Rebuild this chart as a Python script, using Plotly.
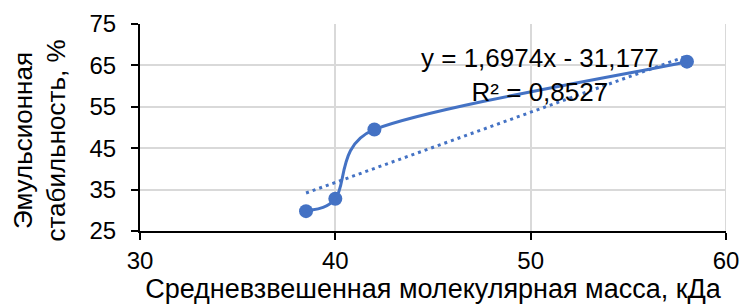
import math
import plotly.graph_objects as go

mass_kda = [38.5, 40.0, 42.0, 58.0]
stability_pct = [29.8, 32.8, 49.5, 65.9]
trend_slope = 1.6974
trend_intercept = -31.177
trend_label = "y = 1,6974x - 31,177<br>R² = 0,8527"
x_title = "Средневзвешенная молекулярная масса, кДа"
y_title = "Эмульсионная<br>стабильность, %"

blue = "#4472C4"
font = "Liberation Sans, Arial, sans-serif"

W, H = 743, 306
M = dict(l=140, r=17, t=24, b=75)
x_range = [30, 60]
y_range = [25, 75]

trend_x = [min(mass_kda), max(mass_kda)]
trend_y = [trend_slope * v + trend_intercept for v in trend_x]


def smooth_path(xs, ys):
    """Excel-style smoothed line: Bezier segments with Catmull-Rom tangents
    (1/6), arm length capped at half the segment length (in screen space)."""
    sx = (W - M["l"] - M["r"]) / (x_range[1] - x_range[0])
    sy = (H - M["t"] - M["b"]) / (y_range[1] - y_range[0])
    pts = [(x * sx, y * sy) for x, y in zip(xs, ys)]
    n = len(pts)

    def arm(a, b, seg_len):
        dx, dy = b[0] - a[0], b[1] - a[1]
        L = math.hypot(dx, dy)
        f = 1 / 6
        if L > 0 and L / 6 > seg_len / 2:
            f = (seg_len / 2) / L
        return dx * f, dy * f

    def to_data(p):
        return f"{p[0] / sx},{p[1] / sy}"

    d = "M " + to_data(pts[0])
    for i in range(n - 1):
        p0 = pts[max(i - 1, 0)]
        p1 = pts[i]
        p2 = pts[i + 1]
        p3 = pts[min(i + 2, n - 1)]
        seg = math.hypot(p2[0] - p1[0], p2[1] - p1[1])
        a1 = arm(p0, p2, seg)
        a2 = arm(p1, p3, seg)
        c1 = (p1[0] + a1[0], p1[1] + a1[1])
        c2 = (p2[0] - a2[0], p2[1] - a2[1])
        d += " C " + to_data(c1) + " " + to_data(c2) + " " + to_data(p2)
    return d


fig = go.Figure()
fig.add_trace(go.Scatter(x=trend_x, y=trend_y, mode="lines",
                         line=dict(color=blue, width=3, dash="3px,4px"),
                         showlegend=False, hoverinfo="skip"))
fig.add_trace(go.Scatter(x=mass_kda, y=stability_pct, mode="markers",
                         marker=dict(color=blue, size=14),
                         showlegend=False))
fig.add_shape(type="path", xref="x", yref="y", path=smooth_path(mass_kda, stability_pct),
              line=dict(color=blue, width=3), layer="above")

fig.add_annotation(x=50.5, y=62.6, xref="x", yref="y", text=trend_label,
                   showarrow=False, align="center",
                   font=dict(family=font, size=26, color="black"))

fig.add_annotation(x=0, y=0.5, xref="paper", yref="paper", text=y_title,
                   textangle=-90, showarrow=False, align="center",
                   xanchor="center", yanchor="middle", xshift=-101, yshift=-13,
                   font=dict(family=font, size=26, color="black"))

fig.update_layout(
    width=W, height=H,
    margin=M,
    paper_bgcolor="white", plot_bgcolor="white",
    font=dict(family=font, size=24, color="black"),
    xaxis=dict(range=x_range, dtick=10, tick0=30, showgrid=True, gridcolor="#d9d9d9",
               gridwidth=2, showline=True, linecolor="black", linewidth=2,
               ticks="outside", ticklen=7, tickcolor="black", tickwidth=2,
               zeroline=False, automargin=False,
               tickfont=dict(size=24),
               title=dict(text=x_title, font=dict(size=27), standoff=4)),
    yaxis=dict(range=y_range, dtick=10, tick0=25, showgrid=True, gridcolor="#d9d9d9",
               gridwidth=2, showline=True, linecolor="black", linewidth=2,
               ticks="outside", ticklen=7, tickcolor="black", tickwidth=2,
               zeroline=False, automargin=False, ticklabelstandoff=10,
               tickfont=dict(size=24)),
)
fig.add_shape(type="line", xref="x", yref="paper", x0=60, x1=60, y0=0, y1=1,
              line=dict(color="#d9d9d9", width=2), layer="below")
fig.write_html("out.html", config={"displayModeBar": False},
               post_script="document.body.style.margin='0px';")
